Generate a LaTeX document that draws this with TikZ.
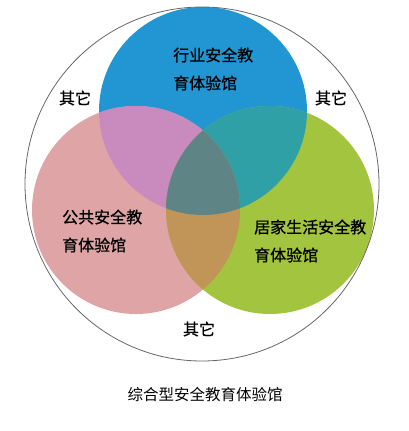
\documentclass[tikz,border=0pt]{standalone}
\usepackage{fontspec}
\newfontfamily\cjk{Noto Sans CJK SC}
\newfontfamily\cjkb[FakeBold=0.8]{Noto Sans CJK SC}
\usepackage{tikz}
\definecolor{hyblue}{RGB}{33,150,211}
\definecolor{ggpink}{RGB}{223,165,166}
\definecolor{jjgreen}{RGB}{163,196,63}
\definecolor{hygg}{RGB}{201,139,190}
\definecolor{hyjj}{RGB}{46,160,166}
\definecolor{ggjj}{RGB}{193,148,88}
\definecolor{allthree}{RGB}{94,132,134}
\tikzset{lab/.style={font={\cjkb\fontsize{16}{28}\selectfont},inner sep=0pt,align=left}}

\begin{document}
\begin{tikzpicture}[x=1pt,y=-1pt]
\useasboundingbox (0,0) rectangle (409,431);

\def\hy{(203,111) circle (104pt)}
\def\gg{(136,210) circle (104pt)}
\def\jj{(270,210) circle (104pt)}

\fill[hyblue] \hy;
\fill[ggpink] \gg;
\fill[jjgreen] \jj;

% overlaps
\begin{scope} \clip \hy; \fill[hygg] \gg; \end{scope}
\begin{scope} \clip \hy; \fill[hyjj] \jj; \end{scope}
\begin{scope} \clip \gg; \fill[ggjj] \jj; \end{scope}
\begin{scope} \clip \hy; \clip \gg; \fill[allthree] \jj; \end{scope}

\draw[gray!80!black, line width=0.8pt] (202,184) circle (177pt);

\node[lab,anchor=west] (hangye) at (173,69) {行业安全教\\育体验馆};
\node[lab,anchor=west] (gonggong) at (62,231) {公共安全教\\育体验馆};
\node[lab,anchor=west] (jujia) at (254,241) {居家生活安全教\\育体验馆};

\node[lab] (qita1) at (75,98) {其它};
\node[lab] (qita2) at (331,98) {其它};
\node[lab] (qita3) at (199,329) {其它};

\node[lab,font={\cjk\fontsize{15.5}{18}\selectfont}] (zonghe) at (205,395) {综合型安全教育体验馆};
\end{tikzpicture}
\end{document}
